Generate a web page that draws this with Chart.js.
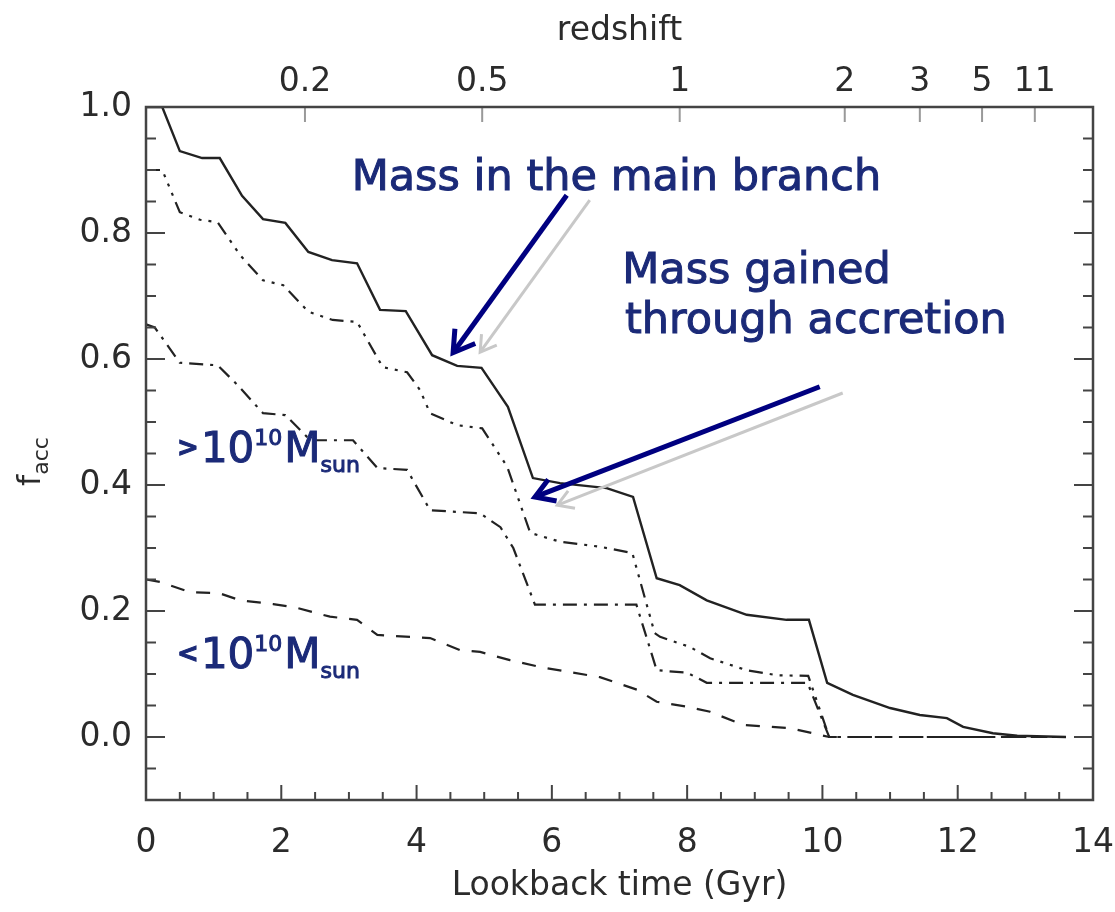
<!DOCTYPE html>
<html>
<head>
<meta charset="utf-8">
<script src="https://cdn.jsdelivr.net/npm/chart.js@4.4.0/dist/chart.umd.min.js"></script>
<style>
  html, body { margin: 0; padding: 0; background: #fff; }
  #wrap { width: 1115px; height: 912px; }
</style>
</head>
<body>
<div id="wrap"><canvas id="facc" width="1115" height="912"></canvas></div>
<script>
// lookback time (Gyr) / f_acc
const mainX = [0, 0.24, 0.50, 0.83, 1.09, 1.42, 1.73, 2.06, 2.40, 2.75, 3.12, 3.46, 3.84, 4.23, 4.60, 4.96, 5.35, 5.72, 6.12, 6.81, 7.20, 7.55, 7.89, 8.29, 8.88, 9.47, 9.80, 10.07, 10.45, 11.0, 11.44, 11.84, 12.08, 12.52, 12.88, 13.6];
const mainY = [1.0, 1.0, 0.930, 0.919, 0.919, 0.859, 0.822, 0.816, 0.770, 0.757, 0.752, 0.678, 0.676, 0.606, 0.589, 0.586, 0.524, 0.411, 0.403, 0.395, 0.381, 0.252, 0.241, 0.217, 0.194, 0.186, 0.186, 0.086, 0.067, 0.046, 0.035, 0.030, 0.016, 0.006, 0.002, 0.0];

const accAllX = [0, 0.24, 0.50, 0.80, 1.06, 1.39, 1.73, 2.03, 2.40, 2.76, 3.12, 3.50, 3.86, 4.05, 4.20, 4.60, 4.97, 5.34, 5.68, 6.12, 6.71, 7.19, 7.52, 7.60, 8.04, 8.34, 8.88, 9.33, 9.79, 10.1, 13.6];
const accAllY = [0.90, 0.90, 0.833, 0.821, 0.817, 0.765, 0.725, 0.717, 0.675, 0.662, 0.659, 0.587, 0.579, 0.551, 0.514, 0.495, 0.490, 0.429, 0.324, 0.310, 0.302, 0.292, 0.165, 0.159, 0.143, 0.125, 0.106, 0.098, 0.097, 0.0, 0.0];

const accBigX = [0, 0.13, 0.50, 1.06, 1.35, 1.73, 2.06, 2.43, 3.06, 3.42, 3.86, 4.20, 4.94, 5.24, 5.43, 5.75, 7.25, 7.55, 8.0, 8.29, 9.78, 10.1, 13.6];
const accBigY = [0.655, 0.65, 0.594, 0.590, 0.559, 0.514, 0.511, 0.471, 0.471, 0.427, 0.424, 0.360, 0.355, 0.333, 0.30, 0.21, 0.21, 0.106, 0.102, 0.086, 0.086, 0.0, 0.0];

const accSmallX = [0, 0.21, 0.65, 1.09, 1.39, 1.88, 2.23, 2.72, 3.12, 3.42, 4.20, 4.64, 4.94, 5.38, 5.83, 6.71, 7.26, 7.55, 8.0, 8.34, 8.83, 9.52, 9.86, 10.1, 13.6];
const accSmallY = [0.25, 0.246, 0.230, 0.228, 0.217, 0.211, 0.205, 0.191, 0.186, 0.162, 0.157, 0.138, 0.135, 0.122, 0.111, 0.095, 0.075, 0.056, 0.048, 0.040, 0.019, 0.014, 0.006, 0.0, 0.0];

// top axis: redshift labels and where they sit in lookback time
const redshiftLabels = ['0.2', '0.5', '1', '2', '3', '5', '11'];
const redshiftGyr    = [2.35, 4.97, 7.89, 10.33, 11.44, 12.36, 13.14];

const FONT = '"DejaVu Sans", sans-serif';
const INK  = '#2b2b2b';
const NAVY = '#1b2a78';

const pts = (xs, ys) => xs.map((x, i) => ({ x, y: ys[i] }));
const isMult = (v, step) => Math.abs(v / step - Math.round(v / step)) < 1e-6;

// annotations, in data coordinates
const arrows = [
  { from: [6.56, 0.852], to: [4.94, 0.611], color: '#c8c8c8', width: 3, head: 18 },
  { from: [6.22, 0.860], to: [4.54, 0.610], color: '#000080', width: 5, head: 24 },
  { from: [10.30, 0.546], to: [6.08, 0.368], color: '#c8c8c8', width: 3, head: 18 },
  { from: [9.96, 0.556], to: [5.75, 0.381], color: '#000080', width: 5, head: 22 },
];

const labels = [
  { at: [3.04, 0.868], parts: [{ t: 'Mass in the main branch', size: 43 }] },
  { at: [7.04, 0.721], parts: [{ t: 'Mass gained', size: 43 }] },
  { at: [7.08, 0.641], parts: [{ t: 'through accretion', size: 43 }] },
  { at: [0.46, 0.437], parts: [
      { t: '>', size: 26, bold: true, dy: -6, gap: 2 },
      { t: '10', size: 42 }, { t: '10', size: 22, dy: -17, gap: 2 },
      { t: 'M', size: 42 }, { t: 'sun', size: 22, dy: 10 } ] },
  { at: [0.46, 0.110], parts: [
      { t: '<', size: 26, bold: true, dy: -6, gap: 2 },
      { t: '10', size: 42 }, { t: '10', size: 22, dy: -17, gap: 2 },
      { t: 'M', size: 42 }, { t: 'sun', size: 22, dy: 10 } ] },
];

function richText(ctx, x, y, parts, outline) {
  let cx = x;
  for (const p of parts) {
    ctx.font = (p.bold ? 'bold ' : '') + p.size + 'px ' + FONT;
    ctx.fillText(p.t, cx, y + (p.dy || 0));
    if (outline) ctx.strokeText(p.t, cx, y + (p.dy || 0));
    cx += ctx.measureText(p.t).width + (p.gap || 0);
  }
}

function drawArrow(ctx, x1, y1, x2, y2, color, width, head) {
  const ang = Math.atan2(y2 - y1, x2 - x1);
  ctx.strokeStyle = color;
  ctx.lineWidth = width;
  ctx.lineCap = 'butt';
  ctx.beginPath();
  ctx.moveTo(x1, y1);
  ctx.lineTo(x2 - 3 * Math.cos(ang), y2 - 3 * Math.sin(ang));
  ctx.stroke();
  ctx.lineJoin = 'miter';
  ctx.beginPath();
  ctx.moveTo(x2 - head * Math.cos(ang - 0.55), y2 - head * Math.sin(ang - 0.55));
  ctx.lineTo(x2, y2);
  ctx.lineTo(x2 - head * Math.cos(ang + 0.55), y2 - head * Math.sin(ang + 0.55));
  ctx.stroke();
}

const frameAndNotes = {
  id: 'frameAndNotes',
  afterDatasetsDraw(chart) {
    const { ctx, chartArea: a, scales } = chart;
    const { x, x2, y } = scales;
    ctx.save();

    // inward tick marks
    ctx.strokeStyle = '#444';
    ctx.lineWidth = 2;
    ctx.beginPath();
    x.ticks.forEach(t => {
      const px = x.getPixelForValue(t.value);
      const len = isMult(t.value, 2) ? 15 : 8;
      ctx.moveTo(px, a.bottom); ctx.lineTo(px, a.bottom - len);
    });
    y.ticks.forEach(t => {
      const py = y.getPixelForValue(t.value);
      const len = isMult(t.value, 0.2) ? 19 : 10;
      ctx.moveTo(a.left, py); ctx.lineTo(a.left + len, py);
      ctx.moveTo(a.right, py); ctx.lineTo(a.right - len, py);
    });
    ctx.stroke();

    ctx.strokeStyle = '#999';
    ctx.beginPath();
    x2.ticks.forEach(t => {
      const px = x2.getPixelForValue(t.value);
      ctx.moveTo(px, a.top); ctx.lineTo(px, a.top + 15);
    });
    ctx.stroke();

    // frame
    ctx.strokeStyle = '#444';
    ctx.lineWidth = 2.5;
    ctx.strokeRect(a.left, a.top, a.right - a.left, a.bottom - a.top);

    // y title: f_acc
    ctx.fillStyle = INK;
    ctx.translate(32, (a.top + a.bottom) / 2 + 8);
    ctx.rotate(-Math.PI / 2);
    ctx.font = '32px ' + FONT;
    const fw = ctx.measureText('f').width;
    ctx.font = '22px ' + FONT;
    const aw = ctx.measureText('acc').width;
    ctx.textBaseline = 'alphabetic';
    richText(ctx, -(fw + aw) / 2, 8, [{ t: 'f', size: 32 }, { t: 'acc', size: 22, dy: 8 }]);
    ctx.setTransform(1, 0, 0, 1, 0, 0);

    // arrows and text
    arrows.forEach(r => drawArrow(ctx,
      x.getPixelForValue(r.from[0]), y.getPixelForValue(r.from[1]),
      x.getPixelForValue(r.to[0]), y.getPixelForValue(r.to[1]),
      r.color, r.width, r.head));

    ctx.fillStyle = NAVY;
    ctx.strokeStyle = NAVY;
    ctx.lineWidth = 1;
    labels.forEach(l => richText(ctx, x.getPixelForValue(l.at[0]), y.getPixelForValue(l.at[1]), l.parts, true));
    ctx.restore();
  }
};

const lineSet = (label, data, dash, width) => ({
  label, data, borderColor: '#222', borderWidth: width, borderDash: dash,
  pointRadius: 0, tension: 0, fill: false,
});

const tickFont = { family: FONT, size: 33 };

new Chart(document.getElementById('facc'), {
  type: 'line',
  data: {
    datasets: [
      lineSet('main branch', pts(mainX, mainY), [], 2.4),
      lineSet('accreted, all', pts(accAllX, accAllY), [14, 7, 3, 7, 3, 7, 3, 7], 2.2),
      lineSet('accreted, >1e10', pts(accBigX, accBigY), [14, 7, 3, 7], 2.2),
      lineSet('accreted, <1e10', pts(accSmallX, accSmallY), [14, 12], 2.2),
    ],
  },
  options: {
    responsive: false,
    animation: false,
    layout: { padding: 0 },
    plugins: { legend: { display: false }, tooltip: { enabled: false } },
    scales: {
      x: {
        type: 'linear', position: 'bottom', min: 0, max: 14,
        afterFit: s => { s.height = 112; s.paddingRight = 22; s.paddingLeft = 0; },
        grid: { display: false, drawTicks: false }, border: { display: false },
        ticks: {
          stepSize: 0.5, autoSkip: false, maxRotation: 0, padding: 24,
          color: INK, font: tickFont,
          callback: v => isMult(v, 2) ? String(Math.round(v)) : '',
        },
        title: { display: true, text: 'Lookback time (Gyr)', color: INK, font: tickFont, padding: { top: 0, bottom: 6 } },
      },
      x2: {
        type: 'linear', position: 'top', min: 0, max: 14,
        afterFit: s => { s.height = 107; s.paddingRight = 0; s.paddingLeft = 0; },
        afterBuildTicks: s => { s.ticks = redshiftGyr.map(v => ({ value: v })); },
        grid: { display: false, drawTicks: false }, border: { display: false },
        ticks: {
          autoSkip: false, maxRotation: 0, padding: 5, color: INK, font: tickFont,
          callback: (v, i) => redshiftLabels[i],
        },
        title: { display: true, text: 'redshift', color: INK, font: tickFont, padding: { top: 12, bottom: 0 } },
      },
      y: {
        type: 'linear', min: -0.1, max: 1.0,
        afterFit: s => { s.width = 146; },
        grid: { display: false, drawTicks: false }, border: { display: false },
        ticks: {
          stepSize: 0.05, maxTicksLimit: 100, autoSkip: false, padding: 14,
          color: INK, font: tickFont,
          callback: v => isMult(v, 0.2) ? v.toFixed(1) : '',
        },
      },
    },
  },
  plugins: [frameAndNotes],
});
</script>
</body>
</html>
